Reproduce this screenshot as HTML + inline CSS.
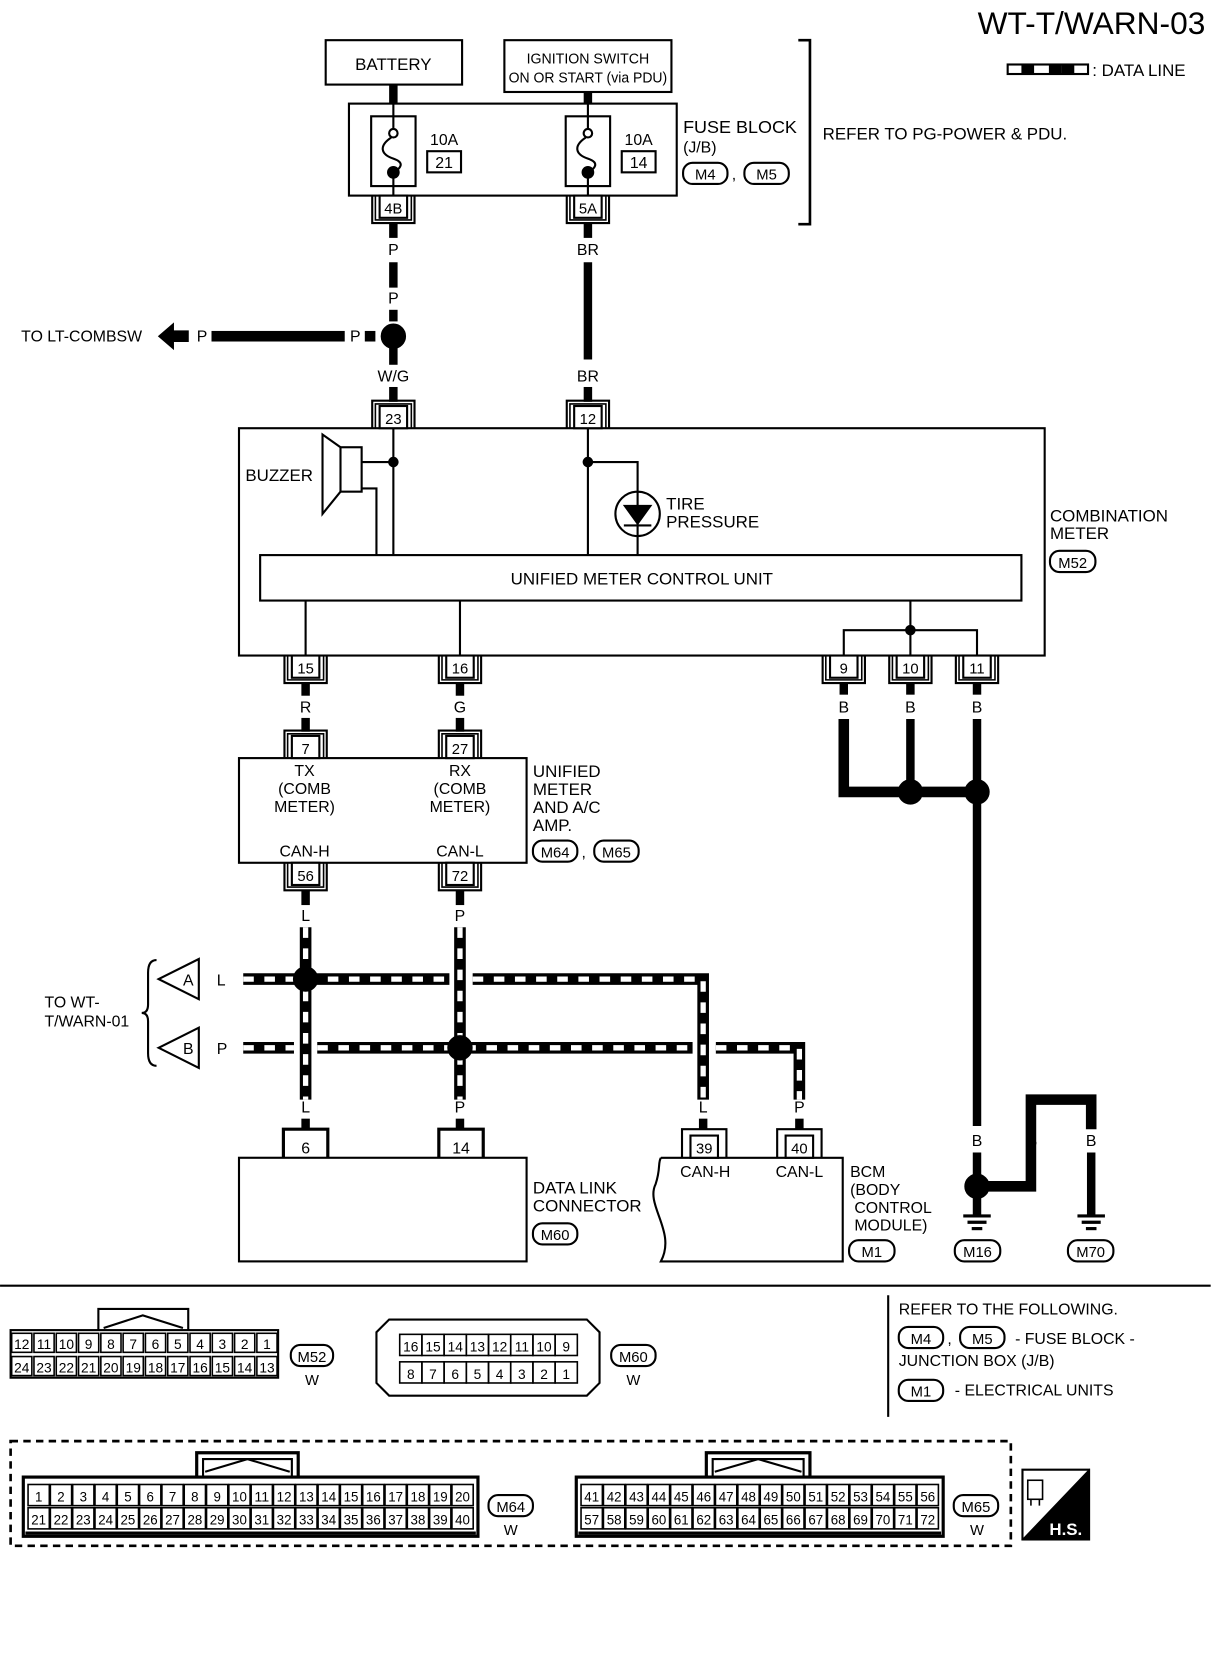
<!DOCTYPE html>
<html><head><meta charset="utf-8"><style>html,body{margin:0;padding:0;background:#fff}svg{display:block}text{font-family:"Liberation Sans",sans-serif;fill:#000}</style></head>
<body>
<svg id="s" xmlns="http://www.w3.org/2000/svg" width="1216" height="1660" viewBox="0 0 1150 1570">
<rect width="1150" height="1570" fill="#fff"/>
</svg>
<script>
const S=document.getElementById('s');const NS='http://www.w3.org/2000/svg';
function el(t,a,txt){const e=document.createElementNS(NS,t);for(const k in a)e.setAttribute(k,a[k]);if(txt!==undefined)e.textContent=txt;S.appendChild(e);return e;}
function T(x,y,s,sz,anc,extra){const a={x:x,y:y,'font-size':sz||15,'text-anchor':anc||'start'};if(extra)Object.assign(a,extra);return el('text',a,s);}
function L(x1,y1,x2,y2,w){return el('line',{x1,y1,x2,y2,stroke:'#000','stroke-width':w||2});}
function R(x,y,w,h,sw,fill){return el('rect',{x,y,width:w,height:h,fill:fill||'none',stroke:'#000','stroke-width':sw||2});}
function P(d,sw,fill){return el('path',{d,stroke:'#000','stroke-width':sw||2,fill:fill||'none'});}
function C(x,y,r,fill){return el('circle',{cx:x,cy:y,r,fill:fill||'#000',stroke:'#000','stroke-width':2});}
function W(x1,y1,x2,y2){return L(x1,y1,x2,y2,8);}
function D(pts){const d='M'+pts.map(p=>p.join(' ')).join(' L');P(d,11);el('path',{d,stroke:'#fff','stroke-width':5,fill:'none','stroke-dasharray':'10 10'});}
function oval(x,y,w,s){el('rect',{x:x,y:y-10,width:w,height:20,rx:9,ry:9,fill:'#fff',stroke:'#000','stroke-width':2});T(x+w/2,y+6,s,14,'middle');}
function conn(cx,y,lab,dir){
 if(dir==='down'){R(cx-13,y,26,21,2,'#fff');T(cx,y+17,lab,14,'middle');
  P(`M${cx-20} ${y} V${y+26} H${cx+20} V${y}`,2);P(`M${cx-17} ${y} V${y+23} H${cx+17} V${y}`,1.5);}
 else {R(cx-13,y-21,26,21,2,'#fff');T(cx,y-4,lab,14,'middle');
  P(`M${cx-20} ${y} V${y-26} H${cx+20} V${y}`,2);P(`M${cx-17} ${y} V${y-23} H${cx+17} V${y}`,1.5);}
}
T(1140,32,'WT-T/WARN-03',30,'end');
R(953,61,76,9,2);el('rect',{x:966,y:61,width:12,height:9,fill:'#000'});el('rect',{x:992,y:61,width:12,height:9,fill:'#000'});el('rect',{x:1004,y:61,width:12,height:9,fill:'#000'});
T(1033,72,': DATA LINE',16);
R(308,38,129,42,2);T(372,66,'BATTERY',16,'middle');
R(477,38,158,49,2);T(556,60,'IGNITION SWITCH',14,'middle',{textLength:116,lengthAdjust:'spacingAndGlyphs'});T(556,78,'ON OR START (via PDU)',14,'middle',{textLength:150,lengthAdjust:'spacingAndGlyphs'});
W(372,80,372,98);W(556,87,556,98);
R(330,98,310,87,2);
function fuse(cx,lab,num){R(cx-21,110,42,66,2);L(cx,98,cx,126,2);el('circle',{cx,cy:126,r:4,fill:'#fff',stroke:'#000','stroke-width':2});
 P(`M${cx-2} 130 C${cx-14} 138 ${cx-12} 146 ${cx} 150 C${cx+12} 154 ${cx+6} 160 ${cx} 163`,2);C(cx,163,5);L(cx,163,cx,185,2);
 T(cx+48,137,'10A',15,'middle');R(cx+32,143,32,20,2);T(cx+48,159,num,15,'middle');}
fuse(372,'10A','21');fuse(556,'10A','14');
T(646,126,'FUSE BLOCK',17);T(646,144,'(J/B)',15);oval(646,164,42,'M4');T(692,170,',',15);oval(704,164,42,'M5');
P('M755 38 H766 V212 H755',2.5);
T(778,132,'REFER TO PG-POWER & PDU.',16);
conn(372,185,'4B','down');conn(556,185,'5A','down');
W(372,211,372,225);T(372,241,'P',15,'middle');W(372,248,372,272);T(372,287,'P',15,'middle');W(372,293,372,304);C(372,318,11);W(372,329,372,345);T(372,361,'W/G',15,'middle');W(372,366,372,380);
W(556,211,556,225);T(556,241,'BR',15,'middle');W(556,248,556,340);T(556,361,'BR',15,'middle');W(556,366,556,380);
T(20,323,'TO LT-COMBSW',15);P('M150 318 L164 306 V313 H178 V323 H164 V330 Z',1,'#000');T(186,323,'P',15);el('rect',{x:200,y:313,width:126,height:10,fill:'#000'});T(331,323,'P',15);el('rect',{x:345,y:313,width:10,height:10,fill:'#000'});
R(226,405,762,215,2);conn(372,405,'23','up');conn(556,405,'12','up');
L(372,405,372,525);C(372,437,4);L(342,437,372,437);P('M342 462 H356 V525',2);
R(322,423,20,42,2);P('M322 423 L305 411 V486 L322 465',2);
T(232,455,'BUZZER',16);
L(556,405,556,525);C(556,437,4);P('M556 437 H603 V525',2);el('circle',{cx:603,cy:486,r:21,fill:'#fff',stroke:'#000','stroke-width':2});L(603,465,603,507,2);
P('M590 478 H616 L603 496 Z',1,'#000');L(590,497,616,497,2);
T(630,482,'TIRE',16);T(630,499,'PRESSURE',16);
R(246,525,720,43,2);T(607,553,'UNIFIED METER CONTROL UNIT',16,'middle');
L(289,568,289,620);L(435,568,435,620);L(861,568,861,620);C(861,596,4);P('M798 620 V596 H924 V620',2);
T(993,493,'COMBINATION',16);T(993,510,'METER',16);oval(993,531,43,'M52');
conn(289,620,'15','down');conn(435,620,'16','down');conn(798,620,'9','down');conn(861,620,'10','down');conn(924,620,'11','down');
W(289,646,289,658);T(289,674,'R',15,'middle');W(289,679,289,692);W(435,646,435,658);T(435,674,'G',15,'middle');W(435,679,435,692);
[798,861,924].forEach(x=>{W(x,646,x,657);T(x,674,'B',15,'middle');});
P('M798 680 V749 H851',10);W(861,680,861,740);C(861,749,11);L(872,749,914,749,10);C(924,749,11);W(924,680,924,740);W(924,760,924,1065);
R(226,717,272,99,2);conn(289,717,'7','up');conn(435,717,'27','up');
[['TX',734],['(COMB',751],['METER)',768]].forEach(a=>{T(288,a[1],a[0],15,'middle');});
[['RX',734],['(COMB',751],['METER)',768]].forEach(a=>{T(435,a[1],a[0],15,'middle');});
T(288,810,'CAN-H',15,'middle');T(435,810,'CAN-L',15,'middle');
T(504,735,'UNIFIED',16);T(504,752,'METER',16);T(504,769,'AND A/C',16);T(504,786,'AMP.',16);oval(504,805,42,'M64');T(550,811,',',15);oval(562,805,42,'M65');
conn(289,816,'56','down');conn(435,816,'72','down');
W(289,842,289,856);T(289,871,'L',15,'middle');W(435,842,435,856);T(435,871,'P',15,'middle');
D([[230,926],[425,926]]);D([[447,926],[665,926],[665,1040]]);
D([[230,991],[278,991]]);D([[300,991],[655,991]]);D([[677,991],[756,991],[756,1040]]);
D([[289,877],[289,1040]]);D([[435,877],[435,1040]]);
C(289,926,11);C(435,991,11);
T(289,1052,'L',15,'middle');T(435,1052,'P',15,'middle');T(665,1052,'L',15,'middle');T(756,1052,'P',15,'middle');
P('M150 926 L188 907 V945 Z',2,'#fff');T(178,932,'A',15,'middle');T(205,932,'L',15);
P('M150 991 L188 972 V1010 Z',2,'#fff');T(178,997,'B',15,'middle');T(205,997,'P',15);
P('M148 908 Q140 908 140 920 V950 Q140 958 134 958 Q140 958 140 966 V996 Q140 1008 148 1008',2);
T(42,953,'TO WT-',15);T(42,971,'T/WARN-01',15);
W(289,1058,289,1068);W(435,1058,435,1068);
R(226,1095,272,98,2);
P('M268 1095 V1068 H310 V1095',3);T(289,1091,'6',15,'middle');P('M415 1095 V1068 H457 V1095',3);T(436,1091,'14',15,'middle');
T(504,1129,'DATA LINK',16);T(504,1146,'CONNECTOR',16);oval(504,1167,42,'M60');
P('M625 1095 H797 V1193 H625 C640 1165 610 1140 620 1120 C625 1105 622 1100 625 1095',2);
W(665,1058,665,1068);W(756,1058,756,1068);
P('M645 1095 V1068 H687 V1095',2);R(653,1074,26,21,2,'#fff');T(666,1091,'39',14,'middle');
P('M735 1095 V1068 H777 V1095',2);R(743,1074,26,21,2,'#fff');T(756,1091,'40',14,'middle');
T(667,1113,'CAN-H',15,'middle');T(756,1113,'CAN-L',15,'middle');
T(804,1113,'BCM',15);T(804,1130,'(BODY',15);T(808,1147,'CONTROL',15);T(808,1164,'MODULE)',15);oval(803,1183,43,'M1');
T(924,1084,'B',15,'middle');W(924,1090,924,1112);C(924,1122,11);W(924,1133,924,1150);L(911,1150,937,1150,3);L(915,1156,933,1156,3);L(919,1162,929,1162,3);oval(903,1183,43,'M16');
P('M934 1122 H975 V1040 H1032 V1068',10);T(976,1084,'B',15,'middle');W(975,1090,975,1112);
T(1032,1084,'B',15,'middle');W(1032,1090,1032,1150);L(1019,1150,1045,1150,3);L(1023,1156,1041,1156,3);L(1027,1162,1037,1162,3);oval(1010,1183,43,'M70');
L(0,1216,1145,1216,2);L(840,1225,840,1340,2);
T(850,1243,'REFER TO THE FOLLOWING.',15);oval(850,1265,42,'M4');T(896,1271,',',15);oval(908,1265,42,'M5');T(960,1271,'- FUSE BLOCK -',15);
T(850,1292,'JUNCTION BOX (J/B)',15);oval(850,1315,42,'M1');T(903,1320,'- ELECTRICAL UNITS',15);
P('M93 1258 V1238 H178 V1258',2);P('M98 1256 L135 1244 L173 1256',2);
R(10,1258,253,45,2);
for(let i=0;i<12;i++){const w=253/12,x=10+i*w;R(x+1,1261,w-2,18,1.5);T(x+w/2,1276,String(12-i),13,'middle');R(x+1,1283,w-2,18,1.5);T(x+w/2,1298,String(24-i),13,'middle');}
oval(275,1282,40,'M52');T(295,1310,'W',14,'middle');
P('M368 1248 H555 L567 1260 V1308 L555 1320 H368 L356 1308 V1260 Z',2);
for(let i=0;i<8;i++){const w=21,x=378+i*w;R(x,1262,w,20,1.5);T(x+w/2,1278,String(16-i),13,'middle');R(x,1288,w,20,1.5);T(x+w/2,1304,String(8-i),13,'middle');}
oval(578,1282,42,'M60');T(599,1310,'W',14,'middle');
el('rect',{x:10,y:1363,width:946,height:99,fill:'none',stroke:'#000','stroke-width':2.5,'stroke-dasharray':'7 5'});
function big(x0,x1,tx0,tx1,start,n){P(`M${tx0} 1397 V1374 H${tx1} V1397`,3);P(`M${tx0+6} 1397 V1380 H${tx1-6} V1397`,2);P(`M${tx0+8} 1392 L${(tx0+tx1)/2} 1380 L${tx1-8} 1392`,2);
 R(x0,1397,x1-x0,56,3);const w=(x1-x0-8)/n;
 for(let i=0;i<n;i++){const x=x0+4+i*w;R(x+0.5,1404,w-1,20,1.5);T(x+w/2,1420,String(start+i),13,'middle',{textLength:Math.min(w-3,String(start+i).length*7),lengthAdjust:'spacingAndGlyphs'});R(x+0.5,1426,w-1,20,1.5);T(x+w/2,1442,String(start+n+i),13,'middle',{textLength:Math.min(w-3,String(start+n+i).length*7),lengthAdjust:'spacingAndGlyphs'});}
 L(x0+2,1450,x1-2,1450,3);}
big(22,452,186,282,1,20);oval(462,1424,42,'M64');T(483,1452,'W',14,'middle');
big(545,892,668,766,41,16);oval(902,1424,42,'M65');T(924,1452,'W',14,'middle');
R(967,1390,63,66,2,'#fff');P('M1030 1390 V1456 H967 Z',1,'#000');T(1008,1452,'H.S.',16,'middle',{style:'fill:#fff;font-weight:bold'});
R(972,1400,14,18,1.5);L(975,1418,975,1424,1.5);L(983,1418,983,1424,1.5);
</script>
</body></html>
